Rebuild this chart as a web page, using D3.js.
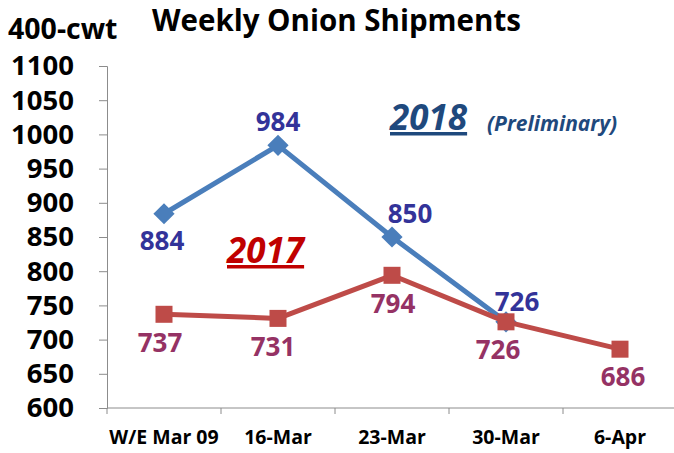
<!DOCTYPE html>
<html>
<head>
<meta charset="utf-8">
<script src="https://cdn.jsdelivr.net/npm/d3@7"></script>
<style>
  body { margin: 0; background: #fff; }
  svg { font-family: "Open Sans", sans-serif; font-weight: bold; }
  .axis path, .axis line { stroke: #8c8c8c; }
</style>
</head>
<body>
<svg id="chart"></svg>
<script>
// chart data
const weeks = ['W/E Mar 09', '16-Mar', '23-Mar', '30-Mar', '6-Apr'];
const ship2018 = [884, 984, 850, 726];
const ship2017 = [737, 731, 794, 726, 686];
const yTicks = [600, 650, 700, 750, 800, 850, 900, 950, 1000, 1050, 1100];

// label offsets (px) from each point
const off2018 = [[-2, 26], [0, -24], [18, -24], [11, -21]];
const off2017 = [[-4, 28], [-5, 28], [1, 28], [-8, 27], [3, 27]];

const width = 674, height = 453;
const margin = {top: 66, right: -3, bottom: 45, left: 107};

const svg = d3.select('#chart')
  .attr('width', width)
  .attr('height', height);

const innerW = width - margin.left - margin.right;
const innerH = height - margin.top - margin.bottom;

const g = svg.append('g')
  .attr('transform', `translate(${margin.left},${margin.top})`);

const x = d3.scaleBand().domain(weeks).range([0, innerW]);
const y = d3.scaleLinear().domain([600, 1100]).range([innerH, 0]);

// y axis
const yAxisG = g.append('g').attr('class', 'axis')
  .call(d3.axisLeft(y).tickValues(yTicks).tickFormat(d3.format('d')).tickSize(8).tickPadding(25));
yAxisG.selectAll('text')
  .attr('fill', '#000')
  .style('font-size', '27.5px')
  .style('font-family', '"Open Sans", sans-serif')
  .style('font-weight', 'bold');

// x axis with ticks at band boundaries
const xAxisG = g.append('g').attr('class', 'axis')
  .attr('transform', `translate(0,${innerH})`)
  .call(d3.axisBottom(x).tickSize(0).tickPadding(22));
xAxisG.select('.domain').attr('d', `M0,0H${innerW}`);
xAxisG.selectAll('text')
  .attr('fill', '#000')
  .style('font-size', '19.5px')
  .style('font-family', '"Open Sans", sans-serif')
  .style('font-weight', 'bold');
xAxisG.selectAll('.bound')
  .data(weeks)
  .join('line')
  .attr('class', 'bound')
  .attr('x1', d => x(d)).attr('x2', d => x(d))
  .attr('y1', 0).attr('y2', 6)
  .attr('stroke', '#8c8c8c');

const cx = (d, i) => x(weeks[i]) + x.bandwidth() / 2;
const line = d3.line().x(cx).y(d => y(d));

// 2018 series
g.append('path')
  .datum(ship2018)
  .attr('d', line)
  .attr('fill', 'none')
  .attr('stroke', '#4A7EBB')
  .attr('stroke-width', 5)
  .attr('stroke-linejoin', 'round');

g.selectAll('.dia')
  .data(ship2018)
  .join('rect')
  .attr('class', 'dia')
  .attr('x', -7.5).attr('y', -7.5)
  .attr('width', 15).attr('height', 15)
  .attr('fill', '#4A7EBB')
  .attr('transform', (d, i) => `translate(${cx(d, i)},${y(d)}) rotate(45)`);

// 2017 series
g.append('path')
  .datum(ship2017)
  .attr('d', line)
  .attr('fill', 'none')
  .attr('stroke', '#BE4B48')
  .attr('stroke-width', 5)
  .attr('stroke-linejoin', 'round');

g.selectAll('.sq')
  .data(ship2017)
  .join('rect')
  .attr('class', 'sq')
  .attr('x', (d, i) => cx(d, i) - 8.5)
  .attr('y', d => y(d) - 8.5)
  .attr('width', 17).attr('height', 17)
  .attr('fill', '#BE4B48');

// data labels
g.selectAll('.lab18')
  .data(ship2018)
  .join('text')
  .attr('class', 'lab18')
  .attr('x', (d, i) => cx(d, i) + off2018[i][0])
  .attr('y', (d, i) => y(d) + off2018[i][1])
  .attr('text-anchor', 'middle')
  .attr('dominant-baseline', 'central')
  .attr('fill', '#333399')
  .style('font-size', '26px')
  .text(d => d);

g.selectAll('.lab17')
  .data(ship2017)
  .join('text')
  .attr('class', 'lab17')
  .attr('x', (d, i) => cx(d, i) + off2017[i][0])
  .attr('y', (d, i) => y(d) + off2017[i][1])
  .attr('text-anchor', 'middle')
  .attr('dominant-baseline', 'central')
  .attr('fill', '#953264')
  .style('font-size', '26px')
  .text(d => d);

// titles
svg.append('text')
  .attr('x', 152).attr('y', 31)
  .style('font-size', '29.5px')
  .attr('fill', '#000')
  .text('Weekly Onion Shipments');

svg.append('text')
  .attr('x', 8).attr('y', 39)
  .style('font-size', '28.5px')
  .attr('fill', '#000')
  .text('400-cwt');

// series annotations
svg.append('text')
  .attr('x', 390).attr('y', 130)
  .style('font-size', '35px')
  .style('font-style', 'italic')
  .style('text-decoration', 'underline')
  .attr('fill', '#1F497D')
  .text('2018');

svg.append('text')
  .attr('x', 487).attr('y', 131)
  .style('font-size', '21px')
  .style('font-style', 'italic')
  .attr('fill', '#1F497D')
  .text('(Preliminary)');

svg.append('text')
  .attr('x', 227).attr('y', 263)
  .style('font-size', '35px')
  .style('font-style', 'italic')
  .style('text-decoration', 'underline')
  .attr('fill', '#C00000')
  .text('2017');
</script>
</body>
</html>
